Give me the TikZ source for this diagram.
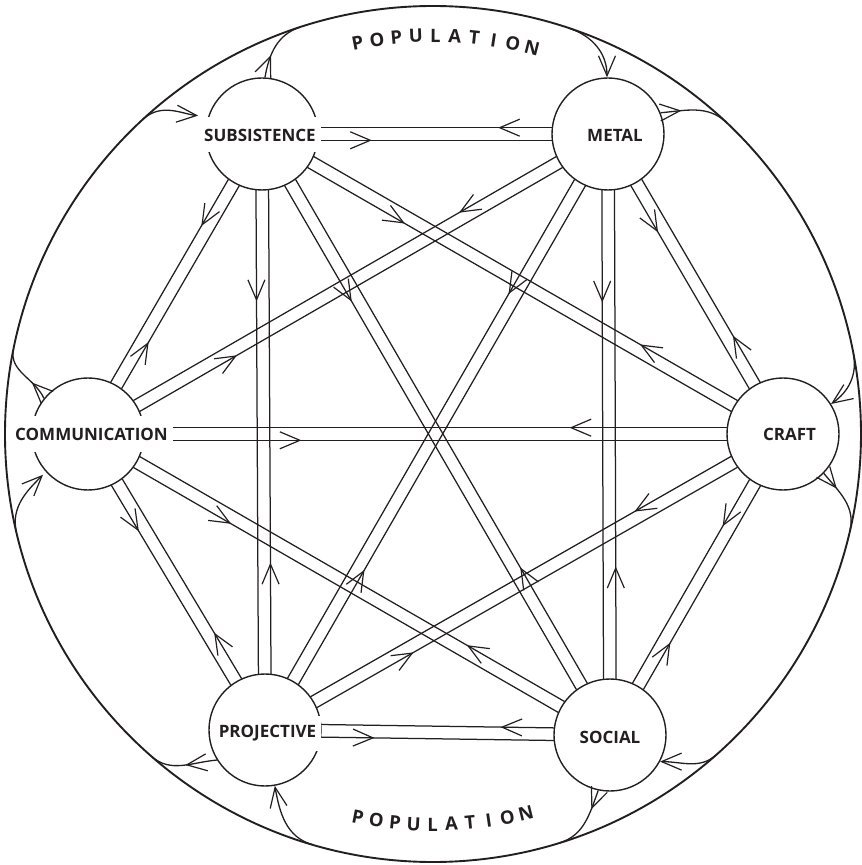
\documentclass[tikz,border=0pt]{standalone}
\usepackage{fontspec}
\setmainfont{Open Sans}
\usetikzlibrary{calc,arrows.meta,decorations.markings}
\definecolor{ink}{RGB}{35,31,32}
\tikzset{
  ar/.tip={Straight Barb[length=20bp,width=17bp,line width=1.2bp]},
  link/.style={draw=ink,line width=1.25bp},
  feed/.style={draw=ink,line width=1.3bp},
  mk/.style={postaction={decorate,decoration={markings,mark=at position #1 with {\arrow[ink]{ar}}}}},
  hub/.style={circle,draw=ink,line width=1.4bp,minimum size=112bp,inner sep=0pt},
  lbl/.style={fill=white,text=ink,font=\bfseries\fontsize{17bp}{17bp}\selectfont,inner xsep=5bp,inner ysep=0pt,minimum height=35bp},
  letter/.style={text=ink,font=\bfseries\fontsize{18.5bp}{18.5bp}\selectfont,inner sep=0pt},
}
\newcommand\duo[3][0.23]{%
  \path ($(#2.center)!56bp!(#3.center)$) coordinate (pa)
        ($(#3.center)!56bp!(#2.center)$) coordinate (pb);
  \draw[link,mk=#1] ($(pa)!6.3bp!-90:(pb)$) -- ($(pb)!6.3bp!90:(pa)$);
  \draw[link,mk=#1] ($(pb)!6.3bp!-90:(pa)$) -- ($(pa)!6.3bp!90:(pb)$);
}
\begin{document}
\begin{tikzpicture}[x=1bp,y=1bp]
\useasboundingbox (-433,-431) rectangle (429,434);
\draw[ink,line width=1.9bp] (0,0) circle[radius=428bp];

% hubs
\node[hub] (subs)   at (-171,300) {};
\node[hub] (metal)  at (175,300) {};
\node[hub] (craft)  at (350,0) {};
\node[hub] (social) at (177,-301) {};
\node[hub] (proj)   at (-168,-296) {};
\node[hub] (comm)   at (-345,0) {};

% points where the feeders meet the outer circle
\coordinate (c1)  at (108.1:428bp);
\coordinate (c2)  at (71.4:428bp);
\coordinate (c3)  at (46.7:428bp);
\coordinate (c4)  at (10.8:428bp);
\coordinate (c5)  at (-13:428bp);
\coordinate (c6)  at (-48.6:428bp);
\coordinate (c7)  at (-72.75:428bp);
\coordinate (c8)  at (-106.4:428bp);
\coordinate (c9)  at (-131.1:428bp);
\coordinate (c10) at (-166.7:428bp);
\coordinate (c11) at (168.6:428bp);
\coordinate (c12) at (132.7:428bp);

% feeders
\draw[feed,mk=23bp] (subs.87) to[out=80,in=198] (c1);
\draw[feed,-{ar}] (c2) to[out=-18.6,in=90] (metal.91);
\draw[feed,mk=21bp] (metal.22) to[out=5,in=136.7] (c3);
\draw[feed,mk=20bp] (craft.-44) to[out=-50,in=77] (c5);
\draw[feed,-{ar}] (c4) to[out=-79.2,in=35] (craft.32);
\draw[feed,-{ar}] (c6) to[out=-138.6,in=0] (social.-28);
\draw[feed,mk=20bp] (social.-102) to[out=-110,in=17.25] (c7);
\draw[feed,-{ar}] (c8) to[out=163.6,in=-80] (proj.-80);
\draw[feed,mk=32bp] (proj.-148) to[out=185,in=-41.1] (c9);
\draw[feed,-{ar},shorten >=4bp] (c10) to[out=103.3,in=225] (comm.-138);
\draw[feed,mk=20bp] (comm.141) to[out=115,in=-101.4] (c11);
\draw[feed,-{ar},shorten >=10bp] (c12) to[out=42.7,in=175] (subs.162);

% two-way links
\duo{subs}{metal}
\duo{subs}{craft}
\duo{subs}{social}
\duo{subs}{proj}
\duo{subs}{comm}
\duo{metal}{craft}
\duo{metal}{social}
\duo{metal}{proj}
\duo{metal}{comm}
\duo{craft}{social}
\duo{craft}{proj}
\duo[0.27]{craft}{comm}
\duo{social}{proj}
\duo{social}{comm}
\duo{proj}{comm}

% labels
\node[lbl] (subsL)   at ($(subs)+(-2,-1)$) {SUBSISTENCE};
\node[lbl] (metalL)  at ($(metal)+(7,-1)$) {METAL};
\node[lbl] (craftL)  at ($(craft)+(6.5,0)$) {CRAFT};
\node[lbl] (socialL) at ($(social)+(0,-2)$) {SOCIAL};
\node[lbl] (projL)   at ($(proj)+(2.5,-3)$) {PROJECTIVE};
\node[lbl] (commL)   at ($(comm)+(3.5,0)$) {COMMUNICATION};

% POPULATION
\foreach \ch [count=\i from 0] in {P,O,P,U,L,A,T,I,O,N} {
  \pgfmathsetmacro\ang{100.9-2.81*\i}
  \node[letter,rotate=\ang-90] (top\i) at (\ang:398.5bp) {\ch};
}
\foreach \ch [count=\i from 0] in {P,O,P,U,L,A,T,I,O,N} {
  \pgfmathsetmacro\ang{-101.1+2.76*\i}
  \node[letter,rotate=\ang+90] (bot\i) at (\ang:390.5bp) {\ch};
}
\end{tikzpicture}
\end{document}
